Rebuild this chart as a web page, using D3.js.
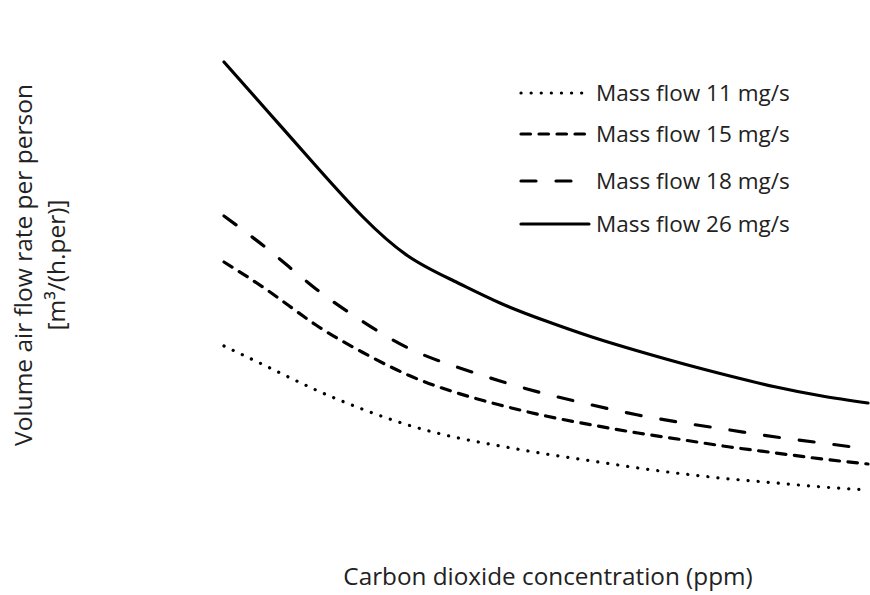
<!DOCTYPE html>
<html>
<head>
<meta charset="utf-8">
<script src="https://cdn.jsdelivr.net/npm/d3@7"></script>
<style>
  body { margin: 0; background: #fff; }
  svg { display: block; }
</style>
</head>
<body>
<svg id="chart" width="870" height="595"></svg>
<script>
// CO2 concentration (ppm)
const concentration = [600, 700, 800, 900, 1000, 1100, 1200, 1300, 1400, 1500, 1600, 1700, 1800, 1900, 2000];

// volume air flow rate per person
const flow11 = [17.4, 15.2, 13.0, 11.1, 9.5, 8.3, 7.4, 6.6, 5.9, 5.2, 4.6, 4.1, 3.7, 3.3, 3.0];
const flow15 = [25.8, 22.8, 19.5, 16.8, 14.5, 12.8, 11.5, 10.4, 9.5, 8.7, 8.0, 7.3, 6.7, 6.1, 5.6];
const flow18 = [30.4, 26.9, 23.1, 19.9, 17.2, 15.4, 13.9, 12.6, 11.5, 10.5, 9.7, 9.0, 8.3, 7.7, 7.1];
const flow26 = [45.8, 40.6, 35.4, 30.4, 26.4, 23.9, 21.7, 19.9, 18.3, 16.9, 15.6, 14.4, 13.3, 12.4, 11.7];

const seriesNames = ['Mass flow 11 mg/s', 'Mass flow 15 mg/s', 'Mass flow 18 mg/s', 'Mass flow 26 mg/s'];

const series = [
    { name: seriesNames[0], values: flow11, dash: '0.1,10', legendLen: 65 },
    { name: seriesNames[1], values: flow15, dash: '9.5,8.5', legendLen: 68 },
    { name: seriesNames[2], values: flow18, dash: '15,20', legendLen: 55 },
    { name: seriesNames[3], values: flow26, dash: null, legendLen: 68 }
];

const svg = d3.select('#chart');
const font = '"Open Sans", Lato, sans-serif';

const x = d3.scaleLinear()
    .domain([600, 2000])
    .range([224, 868]);

const y = d3.scaleLinear()
    .domain([0, 50])
    .range([520, 20]);

const line = d3.line()
    .x(d => x(d.c))
    .y(d => y(d.v))
    .curve(d3.curveNatural);

// curves
const linesGroup = svg.append('g').attr('id', 'lines-group');
series.forEach(s => {
    const pts = concentration.map((c, i) => ({ c: c, v: s.values[i] }));
    linesGroup.append('path')
        .datum(pts)
        .attr('fill', 'none')
        .attr('stroke', '#000')
        .attr('stroke-width', 3.2)
        .attr('stroke-linecap', 'round')
        .attr('stroke-dasharray', s.dash)
        .attr('d', line);
});

// legend
const legendRows = [93, 134, 181, 224];
const legend = svg.append('g').attr('id', 'legend');
series.forEach((s, i) => {
    const ly = legendRows[i];
    legend.append('line')
        .attr('x1', 521)
        .attr('x2', 521 + s.legendLen)
        .attr('y1', ly)
        .attr('y2', ly)
        .attr('stroke', '#000')
        .attr('stroke-width', 3.2)
        .attr('stroke-linecap', 'round')
        .attr('stroke-dasharray', s.dash);
    legend.append('text')
        .attr('x', 596)
        .attr('y', ly + 8)
        .style('font-family', font)
        .style('font-size', '22.5px')
        .style('fill', '#222')
        .text(s.name);
});

// x label
svg.append('text')
    .attr('x', 548)
    .attr('y', 585)
    .attr('text-anchor', 'middle')
    .style('font-family', font)
    .style('font-size', '24.3px')
    .style('fill', '#222')
    .text('Carbon dioxide concentration (ppm)');

// y label
const yLabel = svg.append('text')
    .attr('transform', 'translate(32, 265) rotate(-90)')
    .attr('text-anchor', 'middle')
    .style('font-family', font)
    .style('font-size', '24.5px')
    .style('fill', '#222');
yLabel.append('tspan')
    .attr('x', 0)
    .attr('y', 0)
    .text('Volume air flow rate per person');
yLabel.append('tspan')
    .attr('x', 0)
    .attr('y', 33)
    .text('[m³/(h.per)]');
</script>
</body>
</html>
